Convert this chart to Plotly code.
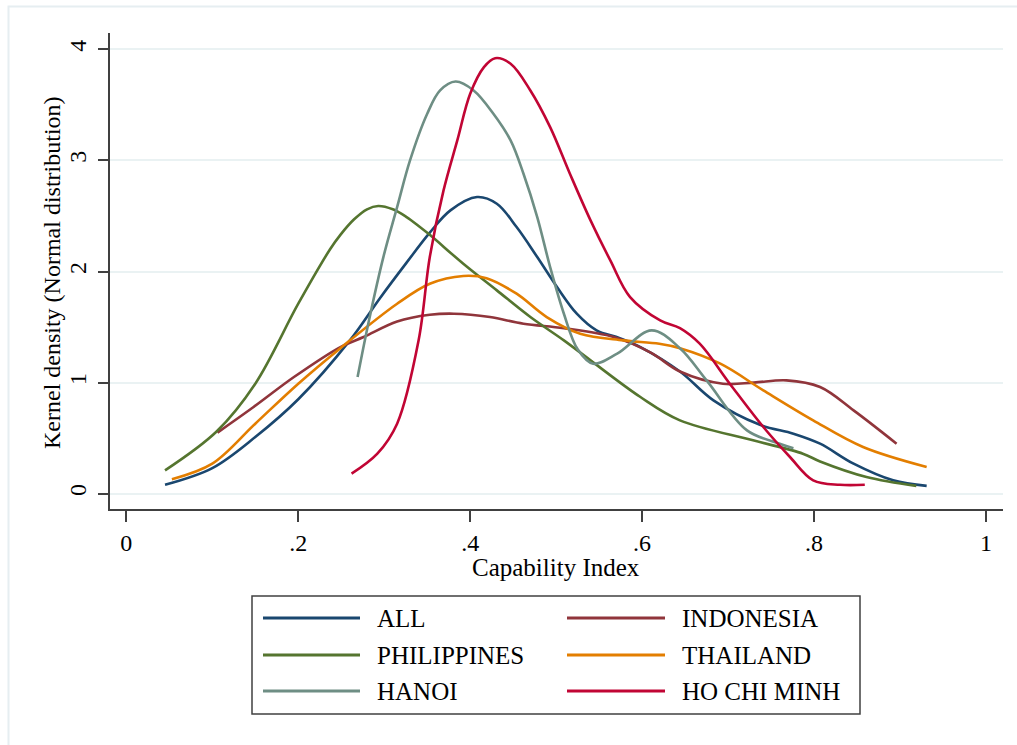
import plotly.graph_objects as go

# Kernel density estimates of the capability index, by sample
series_names = ["ALL", "INDONESIA", "PHILIPPINES", "THAILAND", "HANOI", "HO CHI MINH"]
series_colors = ["#1a476f", "#90353b", "#55752f", "#e37e00", "#6e8e84", "#c10534"]

all_x = [0.045, 0.10, 0.15, 0.20, 0.26, 0.295, 0.326, 0.353, 0.377, 0.408, 0.431, 0.454,
         0.478, 0.501, 0.524, 0.547, 0.574, 0.598, 0.644, 0.683, 0.737, 0.776, 0.807,
         0.846, 0.892, 0.931]
all_y = [0.08, 0.23, 0.51, 0.85, 1.38, 1.76, 2.08, 2.35, 2.55, 2.67, 2.61, 2.40,
         2.13, 1.86, 1.62, 1.47, 1.40, 1.32, 1.10, 0.84, 0.62, 0.54, 0.45,
         0.27, 0.12, 0.07]

indonesia_x = [0.106, 0.148, 0.195, 0.249, 0.276, 0.315, 0.353, 0.381, 0.423, 0.462, 0.509,
               0.567, 0.610, 0.644, 0.694, 0.730, 0.768, 0.807, 0.846, 0.896]
indonesia_y = [0.55, 0.78, 1.05, 1.32, 1.41, 1.55, 1.61, 1.62, 1.59, 1.53, 1.49,
               1.41, 1.27, 1.10, 0.99, 1.00, 1.02, 0.96, 0.75, 0.45]

philippines_x = [0.045, 0.105, 0.150, 0.200, 0.237, 0.249, 0.265, 0.280, 0.293, 0.310, 0.326,
                 0.340, 0.353, 0.392, 0.431, 0.470, 0.509, 0.540, 0.598, 0.644, 0.729, 0.787,
                 0.807, 0.861, 0.919]
philippines_y = [0.21, 0.56, 0.99, 1.71, 2.20, 2.33, 2.47, 2.56, 2.59, 2.56, 2.49,
                 2.41, 2.33, 2.07, 1.83, 1.59, 1.38, 1.20, 0.87, 0.66, 0.48, 0.36,
                 0.29, 0.15, 0.07]

thailand_x = [0.053, 0.100, 0.150, 0.200, 0.249, 0.315, 0.353, 0.392, 0.419, 0.454, 0.489,
              0.528, 0.578, 0.620, 0.644, 0.691, 0.741, 0.799, 0.857, 0.931]
thailand_y = [0.13, 0.27, 0.63, 0.99, 1.31, 1.71, 1.89, 1.96, 1.94, 1.80, 1.59,
              1.44, 1.38, 1.35, 1.31, 1.17, 0.93, 0.66, 0.42, 0.24]

hanoi_x = [0.269, 0.282, 0.299, 0.315, 0.330, 0.350, 0.365, 0.383, 0.404, 0.427, 0.447,
           0.462, 0.478, 0.493, 0.509, 0.525, 0.543, 0.571, 0.611, 0.644, 0.675, 0.722,
           0.760, 0.776]
hanoi_y = [1.05, 1.55, 2.13, 2.58, 3.00, 3.42, 3.63, 3.71, 3.63, 3.42, 3.18,
           2.88, 2.49, 2.04, 1.62, 1.30, 1.17, 1.26, 1.47, 1.31, 1.02, 0.57,
           0.45, 0.41]

hcm_x = [0.262, 0.292, 0.315, 0.340, 0.353, 0.369, 0.385, 0.400, 0.416, 0.429, 0.447, 0.470,
         0.493, 0.516, 0.540, 0.563, 0.586, 0.621, 0.644, 0.667, 0.702, 0.741, 0.772,
         0.799, 0.830, 0.859]
hcm_y = [0.18, 0.36, 0.63, 1.38, 2.13, 2.73, 3.18, 3.60, 3.84, 3.92, 3.87, 3.63,
         3.30, 2.88, 2.46, 2.10, 1.77, 1.56, 1.49, 1.35, 0.99, 0.60, 0.33,
         0.12, 0.08, 0.08]

series_x = [all_x, indonesia_x, philippines_x, thailand_x, hanoi_x, hcm_x]
series_y = [all_y, indonesia_y, philippines_y, thailand_y, hanoi_y, hcm_y]

x_ticks = [0, 0.2, 0.4, 0.6, 0.8, 1.0]
x_tick_labels = ["0", ".2", ".4", ".6", ".8", "1"]
y_ticks = [0, 1, 2, 3, 4]

FONT = "Liberation Serif, Times New Roman, serif"
W, H = 1017, 745
ML, MR, MT, MB = 110, 14, 33, 236
PW, PH = W - ML - MR, H - MT - MB


def px(x):
    return (x - ML) / PW


def py(y):
    return (H - MB - y) / PH


fig = go.Figure()
for name, color, xs, ys in zip(series_names, series_colors, series_x, series_y):
    fig.add_trace(go.Scatter(
        x=xs, y=ys, mode="lines", name=name,
        line=dict(color=color, width=2.6, shape="spline", smoothing=1.0),
        showlegend=False,
    ))

shapes = []
annotations = []

# light frame around the whole graph region
shapes.append(dict(type="rect", xref="paper", yref="paper",
                   x0=px(8.5), y0=py(770), x1=px(1040), y1=py(6.5),
                   line=dict(color="#e6eef1", width=2), layer="below"))

# axis titles
annotations.append(dict(text="Capability Index", xref="paper", yref="paper",
                        x=px(556), y=py(567), xanchor="center", yanchor="middle",
                        showarrow=False, font=dict(family=FONT, size=25, color="black")))
annotations.append(dict(text="Kernel density (Normal distribution)", xref="paper", yref="paper",
                        x=px(52), y=py(273), xanchor="center", yanchor="middle", textangle=-90,
                        showarrow=False, font=dict(family=FONT, size=24, color="black")))

# legend box with two columns of entries
shapes.append(dict(type="rect", xref="paper", yref="paper",
                   x0=px(252), y0=py(714), x1=px(860), y1=py(596),
                   line=dict(color="#404040", width=1.5), fillcolor="white"))
row_y = [618, 655, 691]
col_line = [(263, 360, 375), (567, 665, 680)]
for i, (name, color) in enumerate(zip(series_names, series_colors)):
    r, c = divmod(i, 2)
    lx0, lx1, tx = col_line[c]
    shapes.append(dict(type="line", xref="paper", yref="paper",
                       x0=px(lx0), x1=px(lx1), y0=py(row_y[r]), y1=py(row_y[r]),
                       line=dict(color=color, width=3)))
    annotations.append(dict(text=name, xref="paper", yref="paper",
                            x=px(tx), y=py(row_y[r]), xanchor="left", yanchor="middle",
                            showarrow=False, font=dict(family=FONT, size=25, color="black")))

fig.update_layout(
    width=W, height=H,
    margin=dict(l=ML, r=MR, t=MT, b=MB),
    paper_bgcolor="white", plot_bgcolor="white",
    font=dict(family=FONT, size=24, color="black"),
    shapes=shapes, annotations=annotations,
    showlegend=False,
)
fig.update_xaxes(
    range=[-0.019, 1.0198], tickvals=x_ticks, ticktext=x_tick_labels,
    showgrid=False, zeroline=False,
    showline=True, linecolor="#404040", linewidth=1.5,
    ticks="outside", ticklen=11, tickwidth=1.5, tickcolor="#404040",
    tickfont=dict(family=FONT, size=24),
)
fig.update_yaxes(
    range=[-0.138, 4.147], tickvals=y_ticks,
    showgrid=True, gridcolor="#eaf2f3", gridwidth=1.5, zeroline=False,
    showline=True, linecolor="#404040", linewidth=1.5,
    ticks="outside", ticklen=10, tickwidth=1.5, tickcolor="#404040",
    tickangle=-90, tickfont=dict(family=FONT, size=24), ticklabelstandoff=3,
)

fig.write_html("out.html")
